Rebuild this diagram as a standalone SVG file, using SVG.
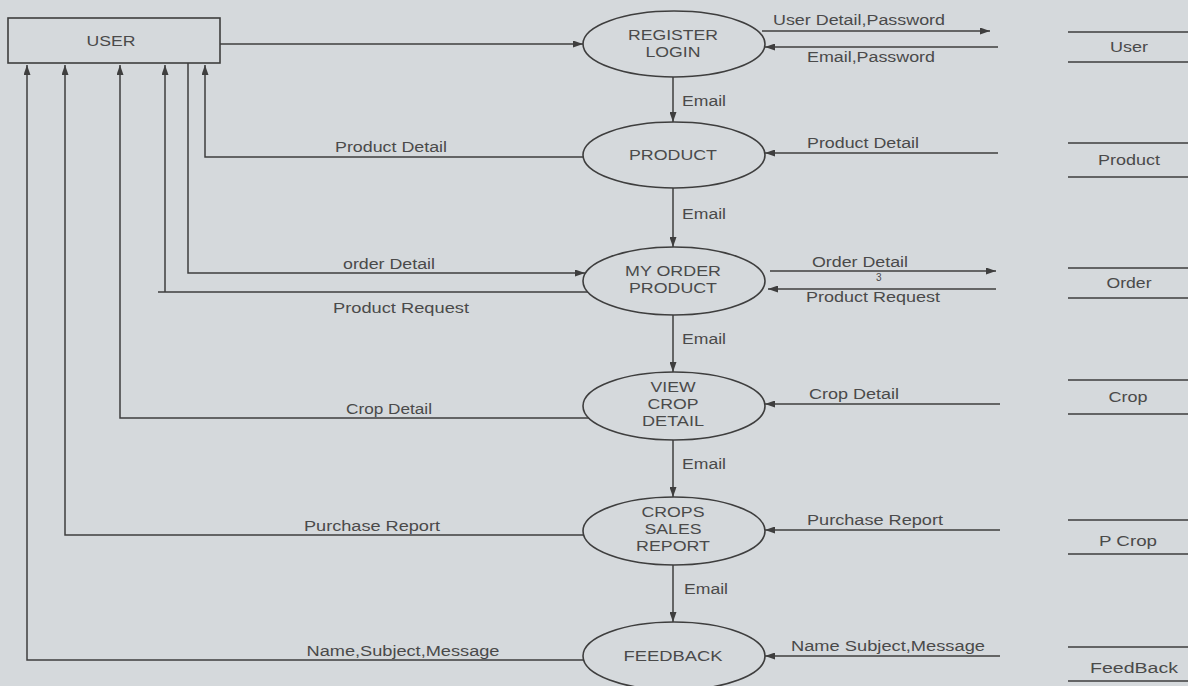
<svg xmlns="http://www.w3.org/2000/svg" width="1188" height="686" viewBox="0 0 1188 686">
<defs>
<style>
.bg{fill:#d5d9dc}
.ln{fill:none;stroke:#3e3e3e;stroke-width:1.5}
.nd{fill:#d5d9dc;stroke:#3e3e3e;stroke-width:1.6}
.t{font-family:"Liberation Sans",Arial,sans-serif;font-size:14px;fill:#4a4a4a}
.c{text-anchor:middle}
.ds{fill:none;stroke:#3e3e3e;stroke-width:1.5}
</style>
<marker id="ah" viewBox="0 0 10 10" refX="10" refY="5" markerWidth="10" markerHeight="7" markerUnits="userSpaceOnUse" orient="auto" preserveAspectRatio="none">
<path d="M0,0 L10,5 L0,10 z" fill="#3e3e3e"/>
</marker>
</defs>
<rect class="bg" x="0" y="0" width="1188" height="686"/>

<g id="connectors">
<path class="ln" d="M220,44 H583" marker-end="url(#ah)"/>
<path class="ln" d="M583,157 H205 V65" marker-end="url(#ah)"/>
<path class="ln" d="M188,63 V273 H585" marker-end="url(#ah)"/>
<path class="ln" d="M588,292 H158 M165,292 V65" marker-end="url(#ah)"/>
<path class="ln" d="M589,418 H120 V65" marker-end="url(#ah)"/>
<path class="ln" d="M584,535 H65 V65" marker-end="url(#ah)"/>
<path class="ln" d="M584,660 H27 V65" marker-end="url(#ah)"/>

<path class="ln" d="M673,77 V122" marker-end="url(#ah)"/>
<path class="ln" d="M673,188 V247" marker-end="url(#ah)"/>
<path class="ln" d="M673,315 V372" marker-end="url(#ah)"/>
<path class="ln" d="M673,440 V497" marker-end="url(#ah)"/>
<path class="ln" d="M673,565 V622" marker-end="url(#ah)"/>

<path class="ln" d="M762,31 H990" marker-end="url(#ah)"/>
<path class="ln" d="M998,47 H765" marker-end="url(#ah)"/>
<path class="ln" d="M998,153 H765" marker-end="url(#ah)"/>
<path class="ln" d="M770,271 H996" marker-end="url(#ah)"/>
<path class="ln" d="M996,289 H768" marker-end="url(#ah)"/>
<path class="ln" d="M1000,404 H765" marker-end="url(#ah)"/>
<path class="ln" d="M1000,530 H765" marker-end="url(#ah)"/>
<path class="ln" d="M1000,656 H765" marker-end="url(#ah)"/>

<text class="t c" x="391" y="152" textLength="112" lengthAdjust="spacingAndGlyphs">Product Detail</text>
<text class="t c" x="389" y="269" textLength="92" lengthAdjust="spacingAndGlyphs">order Detail</text>
<text class="t c" x="401" y="313" textLength="136" lengthAdjust="spacingAndGlyphs">Product Request</text>
<text class="t c" x="389" y="414" textLength="86" lengthAdjust="spacingAndGlyphs">Crop Detail</text>
<text class="t c" x="372" y="531" textLength="136" lengthAdjust="spacingAndGlyphs">Purchase Report</text>
<text class="t c" x="403" y="656" textLength="193" lengthAdjust="spacingAndGlyphs">Name,Subject,Message</text>

<text class="t" x="682" y="106" textLength="44" lengthAdjust="spacingAndGlyphs">Email</text>
<text class="t" x="682" y="219" textLength="44" lengthAdjust="spacingAndGlyphs">Email</text>
<text class="t" x="682" y="344" textLength="44" lengthAdjust="spacingAndGlyphs">Email</text>
<text class="t" x="682" y="469" textLength="44" lengthAdjust="spacingAndGlyphs">Email</text>
<text class="t" x="684" y="594" textLength="44" lengthAdjust="spacingAndGlyphs">Email</text>

<text class="t c" x="859" y="25" textLength="172" lengthAdjust="spacingAndGlyphs">User Detail,Password</text>
<text class="t c" x="871" y="62" textLength="128" lengthAdjust="spacingAndGlyphs">Email,Password</text>
<text class="t c" x="863" y="148" textLength="112" lengthAdjust="spacingAndGlyphs">Product Detail</text>
<text class="t c" x="860" y="267" textLength="96" lengthAdjust="spacingAndGlyphs">Order Detail</text>
<text class="t" x="876" y="281" style="font-size:10px">3</text>
<text class="t c" x="873" y="302" textLength="134" lengthAdjust="spacingAndGlyphs">Product Request</text>
<text class="t c" x="854" y="399" textLength="90" lengthAdjust="spacingAndGlyphs">Crop Detail</text>
<text class="t c" x="875" y="525" textLength="136" lengthAdjust="spacingAndGlyphs">Purchase Report</text>
<text class="t c" x="888" y="651" textLength="194" lengthAdjust="spacingAndGlyphs">Name Subject,Message</text>
</g>

<g id="user">
<rect class="nd" x="8" y="18" width="212" height="45"/>
<text class="t c" x="111" y="46" textLength="49" lengthAdjust="spacingAndGlyphs">USER</text>
</g>

<g id="register-login">
<ellipse class="nd" cx="674" cy="44" rx="91" ry="33"/>
<text class="t c" x="673" y="40" textLength="90" lengthAdjust="spacingAndGlyphs">REGISTER</text>
<text class="t c" x="673" y="57" textLength="55" lengthAdjust="spacingAndGlyphs">LOGIN</text>
</g>

<g id="product">
<ellipse class="nd" cx="674" cy="155" rx="91" ry="33"/>
<text class="t c" x="673" y="160" textLength="88" lengthAdjust="spacingAndGlyphs">PRODUCT</text>
</g>

<g id="my-order-product">
<ellipse class="nd" cx="674" cy="281" rx="91" ry="34"/>
<text class="t c" x="673" y="276" textLength="96" lengthAdjust="spacingAndGlyphs">MY ORDER</text>
<text class="t c" x="673" y="293" textLength="88" lengthAdjust="spacingAndGlyphs">PRODUCT</text>
</g>

<g id="view-crop-detail">
<ellipse class="nd" cx="674" cy="406" rx="91" ry="34"/>
<text class="t c" x="673" y="392" textLength="45" lengthAdjust="spacingAndGlyphs">VIEW</text>
<text class="t c" x="673" y="409" textLength="51" lengthAdjust="spacingAndGlyphs">CROP</text>
<text class="t c" x="673" y="426" textLength="62" lengthAdjust="spacingAndGlyphs">DETAIL</text>
</g>

<g id="crops-sales-report">
<ellipse class="nd" cx="674" cy="531" rx="91" ry="34"/>
<text class="t c" x="673" y="517" textLength="63" lengthAdjust="spacingAndGlyphs">CROPS</text>
<text class="t c" x="673" y="534" textLength="57" lengthAdjust="spacingAndGlyphs">SALES</text>
<text class="t c" x="673" y="551" textLength="74" lengthAdjust="spacingAndGlyphs">REPORT</text>
</g>

<g id="feedback">
<ellipse class="nd" cx="674" cy="656" rx="91" ry="34"/>
<text class="t c" x="673" y="661" textLength="99" lengthAdjust="spacingAndGlyphs">FEEDBACK</text>
</g>

<g id="store-user">
<path class="ds" d="M1068,32 H1188 M1068,62 H1188"/>
<text class="t c" x="1129" y="52" textLength="38" lengthAdjust="spacingAndGlyphs">User</text>
</g>
<g id="store-product">
<path class="ds" d="M1068,143 H1188 M1068,177 H1188"/>
<text class="t c" x="1129" y="165" textLength="62" lengthAdjust="spacingAndGlyphs">Product</text>
</g>
<g id="store-order">
<path class="ds" d="M1068,268 H1188 M1068,298 H1188"/>
<text class="t c" x="1129" y="288" textLength="45" lengthAdjust="spacingAndGlyphs">Order</text>
</g>
<g id="store-crop">
<path class="ds" d="M1068,380 H1188 M1068,414 H1188"/>
<text class="t c" x="1128" y="402" textLength="39" lengthAdjust="spacingAndGlyphs">Crop</text>
</g>
<g id="store-pcrop">
<path class="ds" d="M1068,520 H1188 M1068,554 H1188"/>
<text class="t c" x="1128" y="546" textLength="58" lengthAdjust="spacingAndGlyphs">P Crop</text>
</g>
<g id="store-feedback">
<path class="ds" d="M1068,647 H1188 M1068,681 H1188"/>
<text class="t c" x="1134" y="673" textLength="88" lengthAdjust="spacingAndGlyphs">FeedBack</text>
</g>
</svg>
